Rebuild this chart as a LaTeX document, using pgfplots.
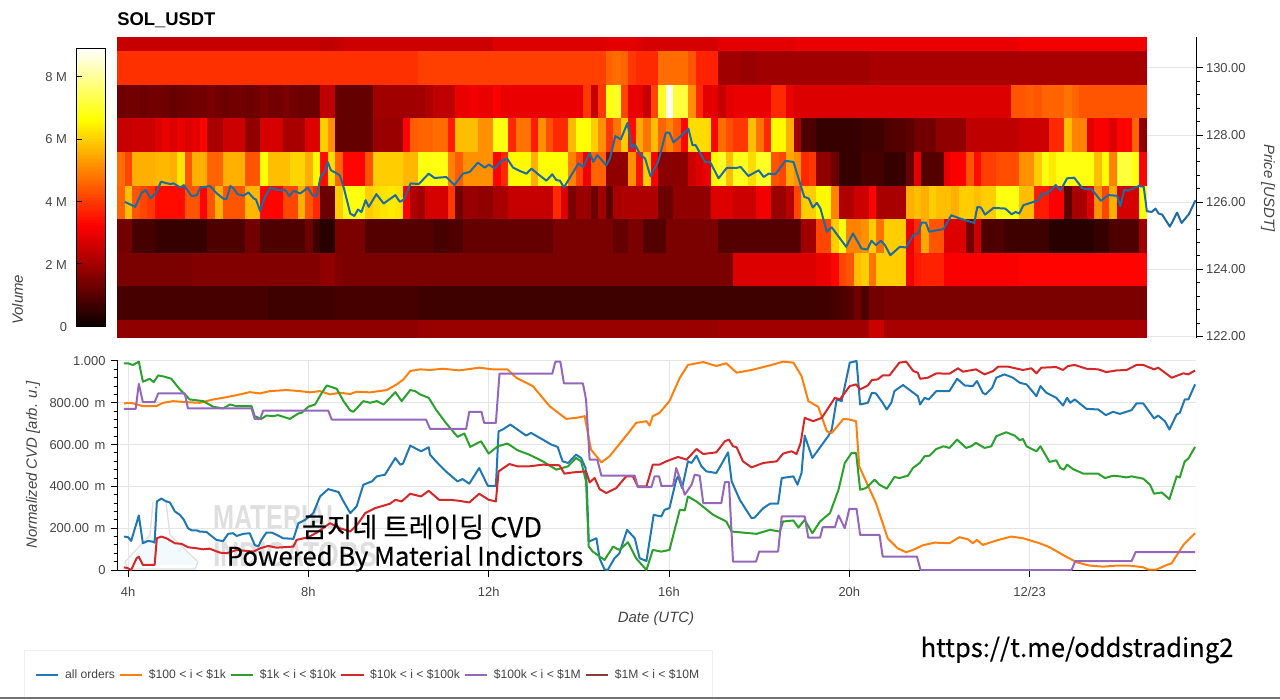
\documentclass[border=0pt]{standalone}
\usepackage{fontspec}
\setmainfont{Liberation Sans}
\newfontfamily\krfont[FakeBold=0.25]{Noto Sans CJK KR}
\usepackage{pgfplots}
\usepackage{pgfplotstable}
\pgfplotsset{compat=1.18}
\definecolor{tickgray}{HTML}{444444}
\definecolor{gridgray}{HTML}{E5E5E5}
\definecolor{cblue}{HTML}{1F77B4}
\definecolor{corange}{HTML}{FF7F0E}
\definecolor{cgreen}{HTML}{2CA02C}
\definecolor{cred}{HTML}{D62728}
\definecolor{cpurple}{HTML}{9467BD}
\definecolor{cbrown}{HTML}{8C3A3A}
\pgfdeclareplotmark{heatcell}{\pgfpathrectangle{\pgfpoint{-2.95pt}{-12.75pt}}{\pgfpoint{5.9pt}{25.5pt}}\pgfusepathqfill}
\pgfdeclareplotmark{heatcelllow}{\pgfpathrectangle{\pgfpoint{-2.95pt}{-6.86pt}}{\pgfpoint{5.9pt}{13.72pt}}\pgfusepathqfill}
\pgfdeclareplotmark{heatcelltop}{\pgfpathrectangle{\pgfpoint{-2.95pt}{-5.28pt}}{\pgfpoint{5.9pt}{10.56pt}}\pgfusepathqfill}
\tikzset{labelfont/.style={font=\fontsize{11.2}{13}\selectfont\itshape, color=tickgray}}
\pgfplotsset{
  colormap={hotmpl}{rgb255(0)=(10,0,0) rgb255(365)=(255,0,0) rgb255(746)=(255,255,0) rgb255(1000)=(255,255,255)},
  heat/.style={scatter, only marks, mark=heatcell, forget plot, point meta=explicit, scatter/use mapped color={draw=none,fill=mapped color}},
  every tick label/.append style={font=\fontsize{9.7}{11}\selectfont, color=tickgray},
}
% Volume per 1-USDT price bin, in units of 0.1 M; one line per bin (122 ... 131), one value per 10-minute column.
\pgfplotstableread[header=false]{
18 18 18 18 18 18 18 18 18 18 18 18 18 18 18 18 18 18 18 18 18 18 18 18 18 18 18 18 18 18 18 18 18 18 18 18 18 18 18 18 19 19 19 19 19 19 19 19 19 19 19 19 19 19 19 19 19 19 19 19 19 19 19 19 19 19 19 19 19 19 19 19 19 19 19 19 19 19 19 19 20 20 20 20 20 20 20 20 20 20 20 20 20 20 20 20 20 20 20 20 26 26 21 21 21 21 21 21 21 21 21 21 21 21 21 21 21 21 21 21 21 21 21 21 21 21 21 21 21 21 21 21 21 21 21 21 21
8 8 8 8 8 8 8 8 8 8 8 8 8 8 8 8 8 8 8 8 7 7 7 7 7 7 7 7 7 8 8 8 8 8 8 8 8 8 8 8 7 7 7 7 7 7 7 7 7 7 7 7 7 7 7 7 7 7 7 7 7 7 7 7 7 7 7 7 7 7 7 7 7 7 7 7 7 7 7 7 7 7 7 7 7 7 7 7 7 7 7 7 7 7 7 8 9 10 14 9 14 14 15 15 15 15 15 15 15 15 15 15 15 15 15 15 15 15 15 15 15 15 15 15 15 15 15 15 15 15 15 15 15 15 15 15 15
15 15 15 15 15 15 15 15 15 15 16 16 16 16 16 16 16 16 16 16 16 16 16 16 16 16 16 18 18 16 15 15 15 15 15 15 15 15 15 15 15 15 15 15 15 15 15 15 15 15 15 15 15 15 15 15 15 15 15 15 15 15 15 15 15 15 15 15 15 15 15 15 15 15 15 15 15 15 15 15 15 15 28 28 28 28 28 28 28 28 28 28 28 30 30 33 42 44 58 60 48 60 60 60 60 31 36 37 37 37 32 32 32 32 32 32 32 32 32 32 33 33 33 33 33 33 33 33 33 33 33 33 33 33 33 33 33
14 14 8 8 8 6 6 6 6 6 6 6 9 9 9 9 9 14 14 9 9 9 9 9 9 13 7 4 4 15 15 15 15 10 10 10 10 10 10 10 10 10 8 8 9 9 12 12 12 12 12 12 12 12 12 12 12 12 15 15 15 15 15 15 15 15 12 12 15 15 10 10 10 15 15 15 15 15 15 15 10 10 10 10 10 10 10 10 10 10 10 20 20 42 42 60 68 50 50 52 60 48 60 60 60 30 38 55 44 44 28 28 28 14 26 9 9 9 7 7 7 7 7 7 4 4 4 4 4 4 6 6 9 9 9 9 20
47 58 44 42 40 34 34 34 34 44 44 33 44 56 44 44 44 57 57 33 33 33 42 42 56 44 38 13 13 60 68 68 68 60 62 63 64 63 32 22 20 27 27 27 40 14 19 19 18 18 21 21 25 25 25 25 25 25 38 28 15 19 19 13 20 11 21 22 22 22 22 22 13 13 18 18 18 18 18 28 28 28 26 26 26 31 31 19 19 23 42 60 60 66 66 50 22 22 26 26 33 21 21 21 21 56 58 56 60 58 58 56 60 60 58 60 60 68 68 68 58 58 36 36 32 32 11 21 21 28 52 42 56 27 27 27 68
47 42 56 56 56 57 57 56 63 44 56 56 46 46 56 56 56 44 44 67 58 58 58 61 61 56 66 34 62 46 33 33 33 44 60 60 60 60 57 57 68 68 68 68 50 45 52 52 52 52 33 38 66 66 66 56 67 67 67 67 50 42 31 46 46 18 18 18 52 35 60 32 17 17 17 17 26 28 30 66 70 58 69 69 62 70 70 44 42 55 52 38 40 18 18 13 6 6 6 8 8 8 6 6 6 12 29 10 10 10 30 32 32 44 34 41 41 43 43 43 52 52 60 68 64 68 68 68 68 68 58 66 50 72 72 68 33
25 25 26 26 26 28 30 28 30 28 29 33 21 21 26 26 26 18 18 27 27 27 21 21 21 28 28 60 52 12 12 12 12 12 19 19 19 19 33 45 46 46 47 47 36 58 58 58 52 52 68 68 38 48 48 36 52 43 38 38 57 67 67 60 52 40 48 60 34 55 48 58 46 50 45 33 62 62 62 33 47 43 40 40 58 48 38 66 66 56 20 9 9 6 6 6 6 6 6 7 7 7 9 10 10 11 14 14 14 18 18 18 18 24 24 24 24 24 24 24 26 26 26 26 38 38 58 50 50 29 32 32 28 33 33 46 18
13 14 14 13 14 14 13 12 13 13 14 14 15 14 13 14 14 13 14 15 14 14 15 14 13 13 13 24 24 12 12 12 12 12 20 20 20 20 20 20 20 22 24 24 24 30 30 31 30 30 32 30 30 30 30 30 30 30 30 30 30 30 40 25 40 68 70 42 30 30 25 42 70 88 72 72 52 38 29 29 25 29 30 30 30 30 30 38 38 30 28 28 28 28 28 28 28 28 28 28 28 28 28 28 28 28 28 28 28 28 28 28 28 28 28 28 28 28 28 44 44 45 44 46 46 46 48 46 44 44 44 44 44 44 44 44 44
39 39 39 39 39 39 39 39 39 39 39 39 39 39 39 39 39 39 39 39 39 39 39 39 39 39 39 39 39 39 39 39 39 39 39 39 39 39 39 39 41 41 41 41 41 41 41 41 41 41 41 41 41 41 41 41 41 41 41 41 41 41 41 41 41 46 47 46 40 38 38 38 47 47 47 47 44 37 37 37 20 20 20 19 19 20 20 20 20 20 20 20 20 20 20 20 20 20 20 20 21 21 21 21 21 21 21 21 21 21 21 21 21 21 21 21 21 21 21 21 21 21 21 21 21 21 21 21 21 21 21 21 21 21 21 21 21
25 25 25 25 25 25 25 25 25 25 25 25 25 25 25 25 25 25 25 25 25 25 25 25 25 25 25 24 24 25 26 26 26 26 26 26 26 26 26 26 26 26 26 26 26 26 26 26 26 26 28 28 28 28 28 28 28 28 28 28 28 28 28 28 28 29 29 29 29 28 27 27 27 27 27 27 27 27 27 27 29 29 29 29 29 29 29 29 29 29 30 30 30 30 30 30 30 30 30 30 30 30 30 30 30 30 30 30 30 30 30 30 30 30 30 30 30 30 30 30 31 31 31 31 31 31 31 31 31 31 31 31 31 31 31 31 31
}\heatwide
\pgfplotstabletranspose\heat{\heatwide}
\begin{document}
\begin{tikzpicture}
\path[use as bounding box] (0,0) rectangle (960pt,524.25pt);
% watermark behind the plot
\begin{scope}[x=0.75pt,y=-0.75pt,shift={(0pt,524.25pt)}]
  \fill[color=black!8!cyan!5!white] (127,565) -- (150,535) -- (178,542) -- (197,565) -- cycle;
  \draw[gray!25,line width=1pt] (153,502) -- (150,535) -- (125,562) -- (128,569) -- (195,569) -- (198,562) -- (170,535) -- (166,502);
  \node[anchor=base west,xscale=.73,inner sep=0pt,color=gray!25,font=\fontsize{26}{28}\selectfont\bfseries] at (213,530) {MATERIAL};
  \node[anchor=base west,xscale=.77,inner sep=0pt,color=gray!25,font=\fontsize{26}{28}\selectfont\bfseries] at (213,567) {INDICATORS};
\end{scope}
% ---------- heat map and price ----------
\begin{axis}[
  at={(88.125pt,270.75pt)}, anchor=south west, scale only axis,
  width=808.875pt, height=225.75pt,
  xmin=3.767, xmax=27.69, ymin=121.955, ymax=130.92,
  clip mode=individual,
  axis x line=none, axis y line*=right,
  axis line style={-,black,line width=.75pt},
  ytick={122,124,126,128,130},
  yticklabels={122.00,124.00,126.00,128.00,130.00},
  minor y tick num=4,
  ymajorgrids, grid style={gridgray,line width=.75pt},
  tick align=outside, major tick length=5pt, minor tick length=3pt,
  tick style={black,line width=.75pt},
  yticklabel style={xshift=-1pt},
  every axis y label/.style={at={(axis description cs:1.0668,0.498)},rotate=-90,anchor=center,labelfont},
  ylabel={Price [USDT]},
  colormap name=hotmpl, point meta min=0, point meta max=89.3,
  colorbar sampled,
  colorbar style={
    at={(parent axis.south west)}, anchor=south west, xshift=-39.4pt, yshift=8.25pt,
    scale only axis, width=21.75pt, height=209.25pt, samples=180,
    axis on top,
    axis line style={black,line width=.75pt},
    ytick={0,20,40,60,80}, yticklabels={0,2 M,4 M,6 M,8 M},
    ytick pos=left, yticklabel pos=left, major tick length=0pt,
    yticklabel style={xshift=-3.5pt},
    every axis y label/.style={at={(axis description cs:-2.03,0.097)},rotate=90,anchor=center,labelfont},
    ylabel={Volume},
  },
]
\addplot[heat,mark=heatcelllow] table[x expr={3.767+(\coordindex+0.5)/6},y expr=122.228,meta index=1]{\heat};
\addplot[heat] table[x expr={3.767+(\coordindex+0.5)/6},y expr=123,meta index=2]{\heat};
\addplot[heat] table[x expr={3.767+(\coordindex+0.5)/6},y expr=124,meta index=3]{\heat};
\addplot[heat] table[x expr={3.767+(\coordindex+0.5)/6},y expr=125,meta index=4]{\heat};
\addplot[heat] table[x expr={3.767+(\coordindex+0.5)/6},y expr=126,meta index=5]{\heat};
\addplot[heat] coordinates {(3.85,126) [46]};
\addplot[heat] table[x expr={3.767+(\coordindex+0.5)/6},y expr=127,meta index=6]{\heat};
\addplot[heat] table[x expr={3.767+(\coordindex+0.5)/6},y expr=128,meta index=7]{\heat};
\addplot[heat] table[x expr={3.767+(\coordindex+0.5)/6},y expr=129,meta index=8]{\heat};
\addplot[heat] table[x expr={3.767+(\coordindex+0.5)/6},y expr=130,meta index=9]{\heat};
\addplot[heat,mark=heatcelltop] table[x expr={3.767+(\coordindex+0.5)/6},y expr=130.71,meta index=10]{\heat};
\addplot[color=cblue!90!black,line width=1.5pt,line join=round,forget plot] coordinates {
(3.93,126.01)(4.16,125.86)(4.30,126.28)(4.39,126.36)(4.50,126.11)(4.64,126.31)(4.73,126.61)(4.93,126.54)(5.01,126.56)(5.16,126.44)(5.24,126.51)(5.41,126.18)(5.53,126.21)(5.60,126.43)(5.82,126.48)(5.97,126.26)(6.13,126.09)(6.19,126.10)(6.27,126.48)(6.34,126.41)(6.43,126.24)(6.56,126.19)(6.67,126.29)(6.79,126.11)(6.84,126.08)(6.93,125.74)(7.04,126.16)(7.16,126.44)(7.30,126.36)(7.49,126.36)(7.58,126.18)(7.67,126.34)(7.82,126.26)(7.99,126.43)(8.10,126.19)(8.19,126.19)(8.27,126.75)(8.36,126.90)(8.43,127.20)(8.50,126.95)(8.64,126.85)(8.70,126.80)(8.79,126.41)(8.93,125.66)(9.02,125.59)(9.10,125.78)(9.18,125.71)(9.27,126.06)(9.34,125.86)(9.51,126.24)(9.67,125.96)(9.93,126.21)(10.03,126.01)(10.12,126.08)(10.27,126.56)(10.45,126.54)(10.67,126.85)
(10.80,126.72)(11.06,126.75)(11.24,126.51)(11.43,126.85)(11.58,126.90)(11.76,127.18)(11.91,127.03)(12.01,127.12)(12.13,127.00)(12.26,127.20)(12.41,127.30)(12.54,127.03)(12.69,126.93)(12.84,126.85)(12.95,127.00)(13.10,126.83)(13.28,126.64)(13.41,126.83)(13.50,126.66)(13.58,126.64)(13.67,126.44)(13.99,127.15)(14.10,127.05)(14.24,127.47)(14.32,127.20)(14.41,127.40)(14.61,127.10)(14.69,127.30)(14.81,127.97)(14.93,127.87)(15.08,128.36)(15.17,127.60)(15.24,127.73)(15.36,127.43)(15.47,127.30)(15.59,126.77)(15.76,127.20)(15.93,128.07)(16.01,128.07)(16.10,127.78)(16.26,127.97)(16.43,128.19)(16.52,127.70)(16.59,127.70)(16.80,127.20)(16.91,127.20)(17.10,126.71)(17.28,127.02)(17.50,127.02)(17.59,127.05)(17.76,126.78)(17.99,126.95)(18.10,126.75)(18.21,126.85)(18.36,126.83)(18.58,127.23)(18.76,127.20)(19.00,126.16)(19.10,126.11)(19.19,125.84)(19.28,125.98)(19.36,125.81)(19.50,125.12)(19.61,125.25)(19.93,124.67)
(20.08,125.07)(20.27,124.62)(20.40,124.59)(20.49,124.85)(20.59,124.72)(20.70,124.85)(20.79,124.72)(20.91,124.42)(21.12,124.67)(21.26,124.65)(21.42,125.02)(21.53,125.07)(21.60,125.39)(21.70,125.39)(21.77,125.12)(22.09,125.20)(22.26,125.61)(22.46,125.51)(22.77,125.38)(22.84,125.86)(22.92,125.84)(23.01,125.63)(23.20,125.83)(23.46,125.81)(23.60,125.64)(23.69,125.71)(23.77,125.66)(23.86,125.91)(24.09,126.01)(24.20,126.06)(24.27,126.26)(24.38,126.24)(24.58,126.51)(24.68,126.34)(24.83,126.71)(24.99,126.73)(25.17,126.41)(25.38,126.38)(25.58,126.04)(25.75,126.21)(25.94,126.19)(26.01,125.88)(26.10,126.38)(26.17,126.34)(26.42,126.48)(26.53,126.46)(26.60,125.73)(26.71,125.71)(26.79,125.81)(26.86,125.66)(26.94,125.63)(27.11,125.27)(27.27,125.69)(27.37,125.38)(27.53,125.64)(27.68,126.06)
};
\end{axis}
% ---------- normalized CVD ----------
\begin{axis}[
  at={(88.125pt,96.75pt)}, anchor=south west, scale only axis,
  width=808.875pt, height=156.75pt,
  xmin=3.767, xmax=27.69, ymin=0, ymax=1,
  axis lines=left, axis line style={-,black,line width=.75pt},
  xtick={4,8,12,16,20,24}, xticklabels={4h,8h,12h,16h,20h,12/23},
  ytick={0,0.2,0.4,0.6,0.8,1}, yticklabels={0,200.00\hspace{1.5pt} m,400.00\hspace{1.5pt} m,600.00\hspace{1.5pt} m,800.00\hspace{1.5pt} m,1.000},
  minor y tick num=4,
  grid=major, grid style={gridgray,line width=.75pt},
  tick align=outside, major tick length=5pt, minor tick length=3pt,
  tick style={black,line width=.75pt},
  xticklabel style={yshift=-4pt},
  yticklabel style={xshift=-.5pt},
  every axis x label/.style={at={(axis description cs:0.4993,-0.235)},anchor=center,labelfont},
  every axis y label/.style={at={(axis description cs:-0.0783,0.502)},rotate=90,anchor=center,labelfont},
  xlabel={Date (UTC)}, ylabel={Normalized CVD [arb. u.]},
  legend columns=6,
  legend cell align=left,
  legend image code/.code={\draw[#1,line width=1.5pt] (0pt,0pt) -- (17pt,0pt);},
  legend style={at={(axis description cs:-0.0867,-0.6268)},anchor=south west,
    draw=gray!12,line width=.75pt,fill=white,inner xsep=7.75pt,inner ysep=14.8pt,
    font=\fontsize{9.1}{11}\selectfont,text=tickgray,
    /tikz/every odd column/.append style={column sep=2.3pt},
    /tikz/every even column/.append style={column sep=0.9pt},
    nodes={inner xsep=1.9pt,inner ysep=0pt}},
]
\draw[gridgray,line width=.75pt] (rel axis cs:1,0) -- (rel axis cs:1,1);
\addplot[color=cblue,line width=1.5pt,line join=round] coordinates {
(3.91,.160)(4.00,.157)(4.07,.139)(4.24,.261)(4.33,.128)(4.44,.139)(4.54,.136)(4.59,.131)(4.64,.328)(4.74,.342)(4.83,.330)(4.93,.323)(5.04,.280)(5.15,.264)(5.24,.240)(5.33,.200)(5.41,.190)(5.52,.190)(5.59,.184)(5.74,.182)(5.85,.163)(5.96,.144)(6.11,.138)(6.22,.173)(6.33,.176)(6.41,.163)(6.56,.173)(6.70,.176)(6.81,.120)(6.89,.112)(6.96,.144)(7.07,.179)(7.19,.179)(7.30,.168)(7.44,.152)(7.67,.149)(7.78,.224)(7.93,.240)(8.11,.272)(8.26,.352)(8.44,.387)(8.67,.373)(8.78,.328)(8.93,.272)(9.07,.304)(9.22,.408)(9.41,.424)(9.52,.448)(9.70,.456)(9.93,.536)(10.04,.504)(10.10,.509)(10.26,.595)(10.50,.568)(10.67,.587)(10.70,.552)
(10.83,.520)(11.05,.472)(11.31,.424)(11.42,.435)(11.57,.413)(11.79,.488)(11.98,.403)(12.16,.403)(12.22,.664)(12.31,.672)(12.48,.696)(12.64,.672)(12.83,.643)(12.94,.656)(13.20,.624)(13.39,.600)(13.53,.589)(13.64,.520)(13.76,.512)(13.94,.552)(14.05,.536)(14.15,.488)(14.18,.384)(14.22,.136)(14.31,.144)(14.39,.152)(14.46,.056)(14.57,.003)(14.64,0)(14.79,.056)(14.90,.080)(15.07,.192)(15.24,.152)(15.35,.056)(15.50,.043)(15.66,.264)(15.83,.256)(15.90,.288)(16.01,.296)(16.16,.432)(16.20,.448)(16.29,.392)(16.42,.520)(16.50,.512)(16.61,.547)(16.72,.496)(16.83,.472)(17.05,.464)(17.20,.520)(17.31,.563)(17.39,.424)(17.57,.336)(17.83,.248)(17.90,.251)(18.09,.296)(18.24,.317)(18.42,.317)(18.50,.440)(18.76,.448)(18.85,.408)(18.94,.464)(19.01,.643)(19.18,.536)(19.53,.640)(19.61,.672)(19.72,.816)(19.83,.808)(20.01,.992)(20.16,1.0)(20.24,.792)
(20.41,.800)(20.50,.848)(20.59,.845)(20.74,.800)(20.83,.768)(20.93,.800)(21.00,.856)(21.19,.885)(21.37,.856)(21.52,.832)(21.57,.792)(21.67,.824)(21.76,.816)(21.93,.856)(22.22,.856)(22.39,.915)(22.56,.883)(22.74,.880)(22.83,.904)(22.96,.848)(23.02,.840)(23.17,.872)(23.26,.920)(23.44,.936)(23.63,.920)(23.78,.896)(23.93,.888)(24.15,.832)(24.24,.880)(24.37,.848)(24.59,.824)(24.74,.787)(24.83,.824)(24.90,.800)(25.00,.816)(25.26,.771)(25.52,.768)(25.69,.741)(25.85,.757)(26.00,.747)(26.26,.765)(26.37,.797)(26.52,.797)(26.76,.725)(26.85,.739)(27.00,.712)(27.10,.672)(27.26,.744)(27.33,.752)(27.44,.816)(27.52,.816)(27.67,.888)
};
\addlegendentry{all orders}
\addplot[color=corange,line width=1.5pt,line join=round] coordinates {
(3.91,.797)(4.07,.800)(4.33,.784)(4.63,.784)(4.78,.800)(5.00,.808)(5.30,.803)(5.59,.800)(5.89,.816)(6.19,.827)(6.48,.840)(6.70,.851)(6.93,.845)(7.15,.856)(7.52,.861)(7.81,.856)(8.04,.850)(8.26,.856)(8.48,.840)(8.70,.848)(8.93,.842)(9.07,.853)(9.37,.850)(9.74,.861)(9.96,.888)(10.11,.912)(10.26,.952)(10.48,.960)(10.70,.957)
(10.98,.963)(11.35,.955)(11.79,.968)(12.09,.960)(12.42,.960)(12.61,.920)(12.98,.880)(13.35,.784)(13.72,.723)(13.94,.728)(14.13,.736)(14.20,.656)(14.27,.576)(14.50,.515)(14.68,.544)(15.13,.664)(15.27,.704)(15.50,.712)(15.57,.691)(15.64,.736)(15.79,.752)(16.01,.808)(16.24,.920)(16.42,.981)(16.76,.995)(17.05,.976)(17.27,.989)(17.50,.944)(17.83,.957)(18.24,.979)(18.53,.997)(18.76,.992)(18.94,.928)(19.09,.808)(19.31,.781)(19.50,.664)(19.61,.656)(19.87,.723)
(20.00,.720)(20.15,.712)(20.22,.496)(20.37,.424)(20.59,.320)(20.74,.224)(20.85,.152)(21.07,.104)(21.26,.085)(21.41,.096)(21.63,.118)(21.89,.131)(22.22,.128)(22.44,.157)(22.63,.147)(22.74,.128)(22.83,.144)(22.96,.120)(23.26,.141)(23.59,.160)(23.85,.152)(24.22,.128)(24.44,.109)(24.74,.072)(25.04,.037)(25.33,.021)(25.63,.016)(25.93,.021)(26.22,.021)(26.52,.013)(26.63,.002)(26.81,.002)(27.04,.024)(27.15,.032)(27.41,.120)(27.67,.176)
};
\addlegendentry{\$100 < i < \$1k}
\addplot[color=cgreen,line width=1.5pt,line join=round] coordinates {
(3.91,.989)(4.00,.989)(4.11,.981)(4.24,.997)(4.33,.901)(4.48,.915)(4.57,.899)(4.67,.931)(4.81,.925)(4.96,.915)(5.15,.864)(5.37,.816)(5.67,.808)(5.89,.781)(6.11,.773)(6.26,.792)(6.41,.784)(6.74,.784)(6.81,.736)(6.96,.723)(7.07,.739)(7.22,.736)(7.33,.741)(7.59,.723)(7.78,.749)(7.85,.752)(8.00,.781)(8.15,.792)(8.30,.848)(8.41,.883)(8.63,.867)(8.78,.808)(8.93,.763)(9.00,.757)(9.22,.808)(9.37,.800)(9.52,.808)(9.67,.792)(9.93,.851)(10.07,.808)(10.26,.861)(10.37,.856)(10.48,.840)(10.67,.824)
(10.83,.768)(11.05,.704)(11.31,.637)(11.46,.653)(11.59,.589)(11.83,.616)(12.00,.557)(12.20,.592)(12.42,.605)(12.64,.573)(12.90,.552)(13.20,.520)(13.50,.480)(13.76,.496)(13.94,.536)(14.05,.520)(14.16,.424)(14.22,.112)(14.31,.088)(14.57,.048)(14.76,.112)(14.90,.096)(15.09,.133)(15.27,.056)(15.50,0)(15.64,.096)(15.83,.088)(16.01,.096)(16.24,.288)(16.35,.285)(16.42,.352)(16.61,.328)(16.98,.264)(17.27,.232)(17.39,.184)(17.94,.173)(18.24,.192)(18.46,.184)(18.53,.232)(18.76,.237)(18.87,.203)(19.01,.240)(19.18,.176)(19.35,.232)(19.57,.272)(19.76,.384)(19.90,.512)(20.05,.560)
(20.15,.560)(20.24,.384)(20.37,.392)(20.56,.432)(20.67,.408)(20.83,.389)(21.00,.445)(21.11,.440)(21.30,.451)(21.41,.488)(21.56,.512)(21.67,.544)(21.78,.547)(21.93,.579)(22.09,.592)(22.22,.584)(22.39,.624)(22.59,.584)(22.70,.592)(22.81,.608)(23.00,.584)(23.15,.592)(23.26,.640)(23.48,.659)(23.67,.643)(23.78,.621)(23.85,.627)(23.93,.592)(24.15,.568)(24.24,.592)(24.44,.517)(24.59,.525)(24.68,.488)(24.76,.480)(24.83,.504)(24.96,.483)(25.19,.461)(25.52,.461)(25.67,.440)(25.85,.451)(26.00,.448)(26.15,.443)(26.26,.448)(26.52,.437)(26.67,.408)(26.76,.365)(26.93,.371)(27.10,.339)(27.26,.448)(27.33,.443)(27.44,.520)(27.52,.533)(27.67,.589)
};
\addlegendentry{\$1k < i < \$10k}
\addplot[color=cred,line width=1.5pt,line join=round] coordinates {
(3.91,.013)(4.00,.008)(4.07,0)(4.19,.056)(4.24,.064)(4.33,.024)(4.59,.024)(4.64,.152)(4.74,.160)(4.85,.152)(5.04,.128)(5.19,.125)(5.33,.109)(5.52,.104)(5.67,.099)(5.81,.102)(6.04,.083)(6.19,.080)(6.41,.096)(6.78,.088)(6.93,.104)(7.11,.115)(7.30,.107)(7.67,.112)(7.74,.144)(8.00,.157)(8.19,.179)(8.48,.224)(8.70,.200)(8.93,.184)(9.11,.224)(9.26,.272)(9.48,.296)(9.81,.317)(9.93,.336)(10.07,.328)(10.26,.365)(10.50,.352)(10.67,.379)
(10.90,.336)(11.13,.336)(11.35,.331)(11.57,.323)(11.79,.365)(12.00,.336)(12.16,.328)(12.22,.472)(12.46,.507)(12.64,.496)(12.90,.496)(13.20,.504)(13.57,.501)(13.68,.461)(13.87,.467)(14.16,.472)(14.24,.419)(14.35,.440)(14.46,.387)(14.61,.368)(14.83,.392)(15.05,.448)(15.20,.448)(15.31,.400)(15.50,.400)(15.64,.504)(15.79,.504)(15.94,.520)(16.20,.541)(16.39,.528)(16.61,.579)(16.76,.555)(17.05,.563)(17.24,.616)(17.33,.624)(17.42,.592)(17.50,.587)(17.64,.520)(17.83,.491)(18.09,.512)(18.39,.520)(18.53,.557)(18.72,.568)(18.83,.555)(18.92,.608)(19.01,.728)(19.20,.712)(19.39,.728)(19.68,.824)(19.79,.816)(20.01,.880)
(20.15,.888)(20.24,.864)(20.41,.883)(20.50,.909)(20.63,.912)(20.74,.931)(20.89,.931)(21.11,.992)(21.26,.997)(21.42,.952)(21.52,.944)(21.57,.915)(21.74,.920)(21.93,.941)(22.22,.939)(22.41,.965)(22.52,.949)(22.81,.960)(23.00,.936)(23.19,.952)(23.30,.973)(23.52,.973)(23.85,.957)(24.04,.965)(24.15,.941)(24.26,.968)(24.59,.971)(24.74,.957)(24.85,.976)(25.00,.981)(25.26,.963)(25.52,.960)(25.70,.947)(25.93,.955)(26.15,.957)(26.37,.981)(26.52,.981)(26.76,.960)(26.85,.968)(27.15,.920)(27.41,.941)(27.52,.936)(27.67,.955)
};
\addlegendentry{\$10k < i < \$100k}
\addplot[color=cpurple,line width=1.5pt,line join=round] coordinates {
(3.91,.771)(4.17,.771)(4.24,.891)(4.33,.803)(4.59,.803)(4.67,.845)(5.26,.845)(5.33,.773)(6.74,.773)(6.81,.723)(6.93,.723)(7.00,.763)(8.44,.763)(8.52,.720)(10.61,.720)(10.70,.675)
(11.50,.675)(11.57,.757)(11.84,.757)(11.90,.704)(12.16,.704)(12.24,.939)(13.41,.939)(13.48,.997)(13.59,.997)(13.67,.893)(14.09,.893)(14.16,.816)(14.24,.528)(14.41,.528)(14.50,.451)(15.24,.451)(15.31,.397)(15.61,.397)(15.68,.448)(15.78,.448)(15.83,.403)(16.09,.403)(16.16,.488)(16.24,.440)(16.35,.360)(16.50,.408)(16.57,.456)(16.68,.451)(16.76,.320)(17.16,.320)(17.24,.421)(17.33,.421)(17.42,.040)(17.93,.040)(18.00,.088)(18.42,.088)(18.50,.256)(19.01,.256)(19.09,.155)(19.35,.155)(19.41,.205)(19.68,.205)(19.76,.261)(19.90,.200)(20.00,.293)(20.16,.293)(20.24,.168)(20.67,.168)(20.74,.064)(21.50,.064)(21.58,0)(24.93,0)(25.01,.042)(26.26,.042)(26.35,.086)(27.67,.086)
};
\addlegendentry{\$100k < i < \$1M}
\addlegendimage{color=cbrown}
\addlegendentry{\$1M < i < \$10M}
\end{axis}
% ---------- overlaid texts ----------
\begin{scope}[x=0.75pt,y=-0.75pt,shift={(0pt,524.25pt)}]
  \draw[black,line width=.75pt] (76,77) -- (82,77) (76,139.2) -- (82,139.2) (76,201.4) -- (82,201.4) (76,263.6) -- (82,263.6);
  \node[anchor=base west,inner sep=0pt,font=\fontsize{13.8}{15}\selectfont\bfseries] at (117,26) {SOL\_USDT};
  \node[anchor=center,inner sep=0pt,font=\krfont\fontsize{20.5}{22}\selectfont] at (422,527) {곰지네 트레이딩 CVD};
  \node[anchor=center,inner sep=0pt,font=\krfont\fontsize{19.3}{21}\selectfont] at (405,558.5) {Powered By Material Indictors};
  \node[anchor=center,inner sep=0pt,font=\krfont\fontsize{19.2}{21}\selectfont] at (1077,650) {https://t.me/oddstrading2};
  \fill[color=black!55!white] (0,697) rectangle (1280,699);
\end{scope}
\end{tikzpicture}
\end{document}
